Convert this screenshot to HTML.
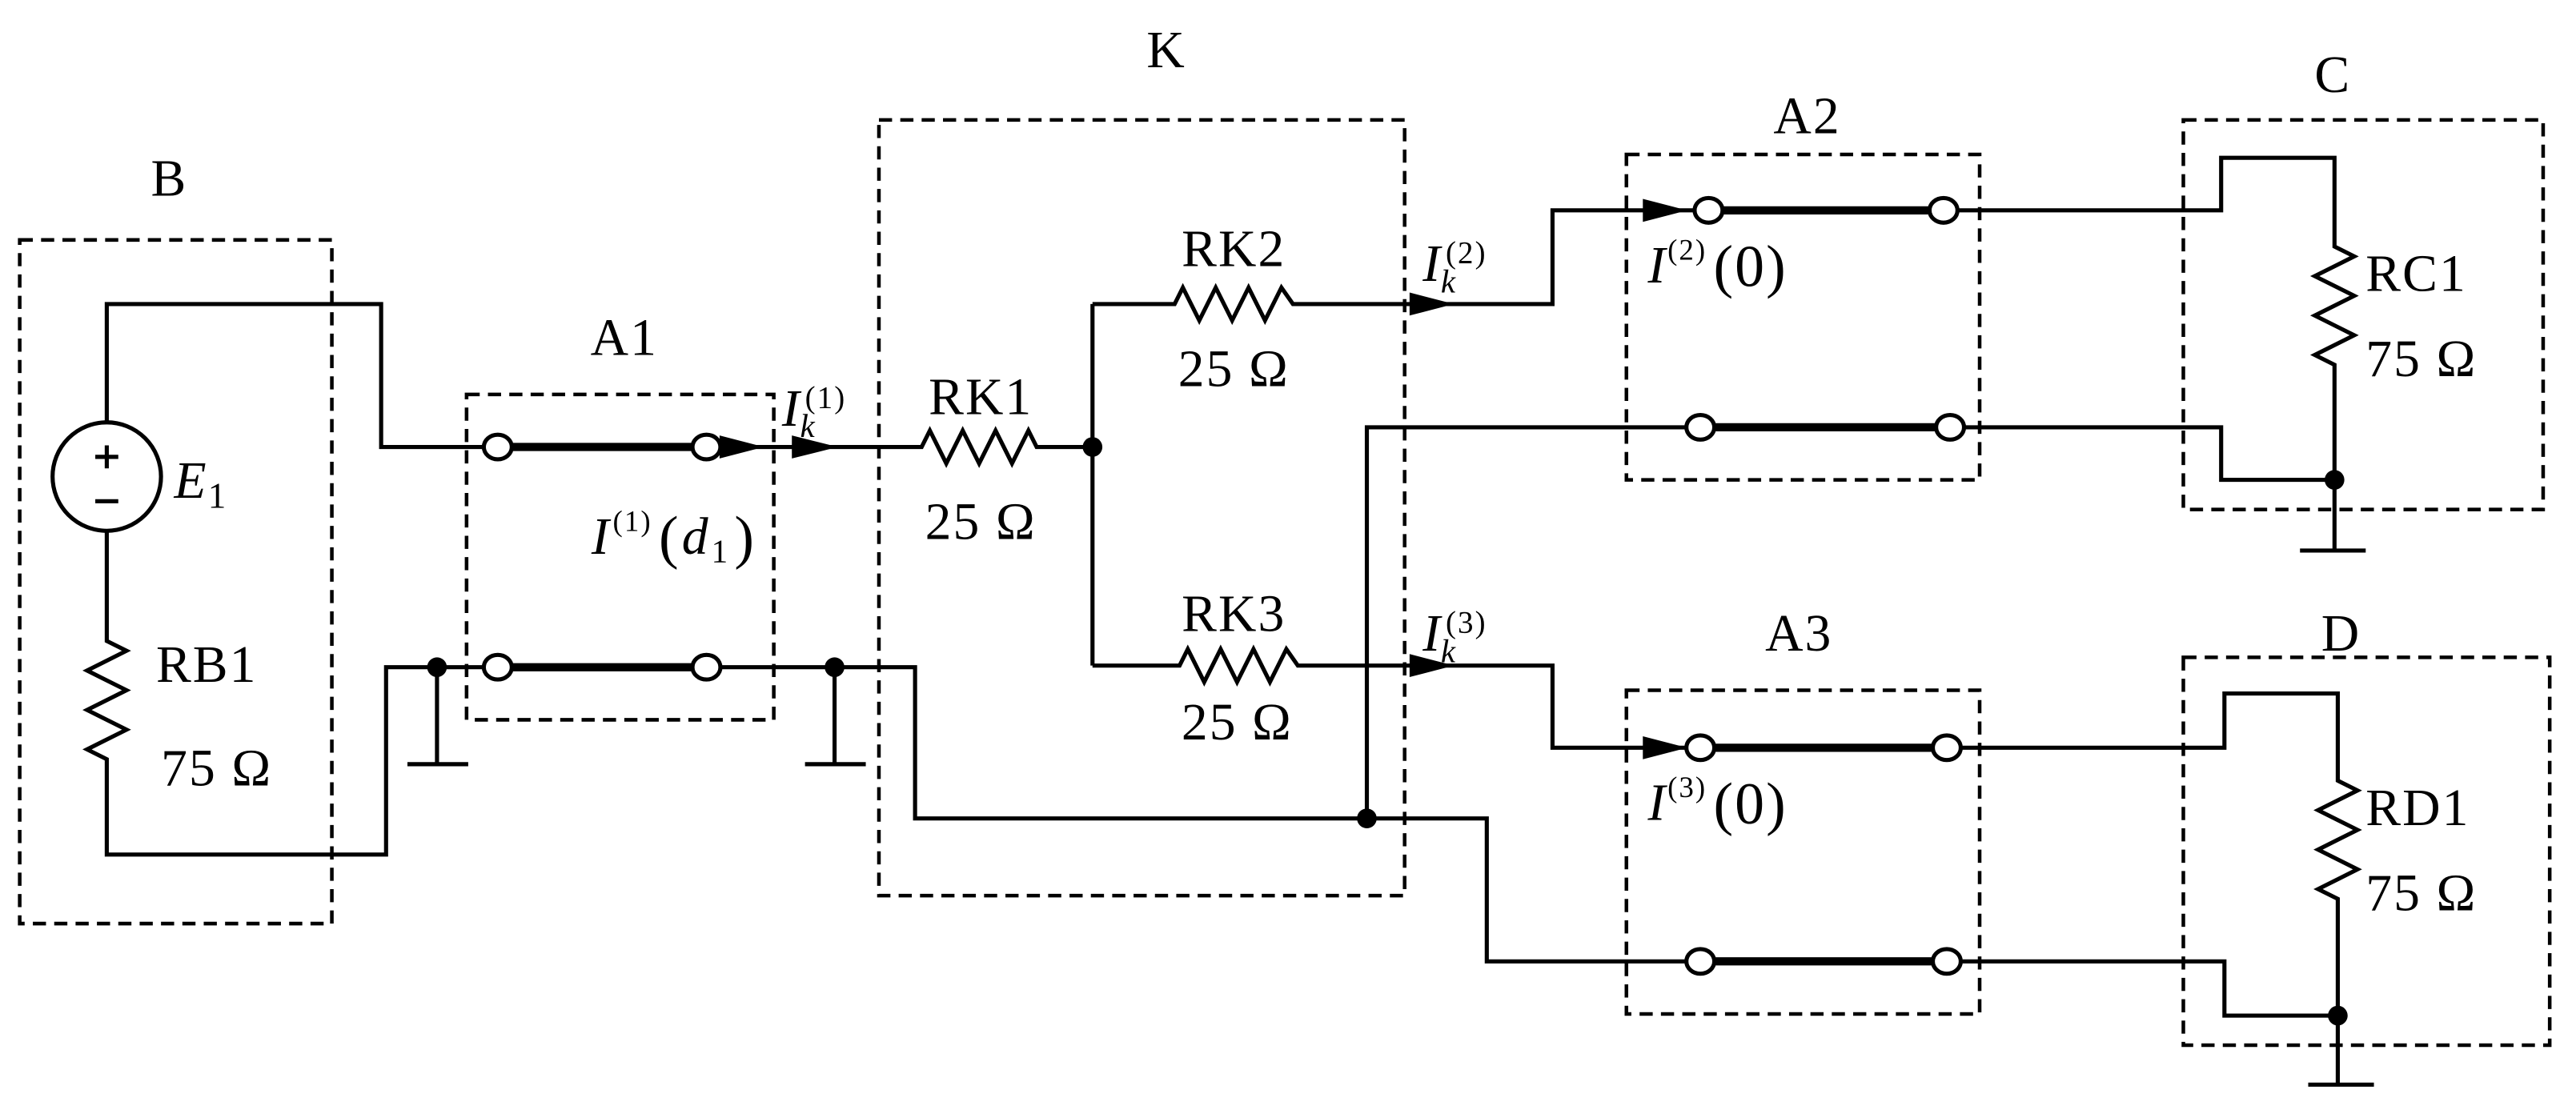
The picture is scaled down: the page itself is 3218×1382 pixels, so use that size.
<!DOCTYPE html>
<html><head><meta charset="utf-8"><style>
html,body{margin:0;padding:0;background:#fff;}
svg{display:block;}
text{font-family:"Liberation Serif",serif;fill:#000;}
</style></head><body>
<svg width="3218" height="1382" viewBox="0 0 1568 673" preserveAspectRatio="none" xmlns="http://www.w3.org/2000/svg">
<g fill="none" stroke="#000" stroke-width="2.2" stroke-dasharray="8,5">
<rect x="12" y="146" width="190" height="416"/>
<rect x="284" y="240" width="187" height="198"/>
<rect x="535" y="73" width="320" height="472"/>
<rect x="990" y="94" width="215" height="198"/>
<rect x="990" y="420" width="215" height="197"/>
<rect x="1329" y="73" width="219" height="237"/>
<rect x="1329" y="400" width="223" height="236"/>
</g>
<g fill="none" stroke="#000" stroke-width="2.5">
<polyline points="65,257 65,185 232,185 232,272 296,272"/>
<polyline points="65,323 65,390 77,396 53,408 77,420 53,432 77,444 53,456 65,462 65,520 235,520 235,406 296,406"/>
<circle cx="65" cy="290" r="33"/>
<line x1="266" y1="406" x2="266" y2="465"/><line x1="248" y1="465" x2="285" y2="465"/>
<line x1="508" y1="406" x2="508" y2="465"/><line x1="490" y1="465" x2="527" y2="465"/>
<polyline points="437,272 561,272 566,262 576,282 586,262 596,282 606,262 616,282 626,262 631,272 665,272"/>
<polyline points="437,406 557,406 557,498 905,498 905,585 1028,585"/>
<polyline points="665,185 665,405"/>
<polyline points="665,185 715,185 720,175 730,195 740,175 750,195 760,175 770,195 780,175 787,185 945,185 945,128 1033,128"/>
<polyline points="665,405 718,405 723,395 733,415 743,395 753,415 763,395 773,415 783,395 790,405 945,405 945,455 1028,455"/>
<polyline points="832,498 832,260 1028,260"/>
<polyline points="1190,128 1352,128 1352,96 1421,96 1421,150 1433,156 1409,168 1433,180 1409,192 1433,204 1409,216 1421,222 1421,292 1352,292 1352,260 1194,260"/>
<polyline points="1421,292 1421,335"/><line x1="1400" y1="335" x2="1440" y2="335"/>
<polyline points="1192,455 1354,455 1354,422 1423,422 1423,475 1435,481 1411,493 1435,505 1411,517 1435,529 1411,541 1423,547 1423,618 1354,618 1354,585 1192,585"/>
<polyline points="1423,618 1423,660"/><line x1="1405" y1="660" x2="1445" y2="660"/>
</g>
<g stroke="#000" stroke-width="5">
<line x1="303" y1="272" x2="430" y2="272"/>
<line x1="303" y1="406" x2="430" y2="406"/>
<line x1="1040" y1="128" x2="1183" y2="128"/>
<line x1="1035" y1="260" x2="1187" y2="260"/>
<line x1="1035" y1="455" x2="1185" y2="455"/>
<line x1="1035" y1="585" x2="1185" y2="585"/>
</g>
<g fill="#fff" stroke="#000" stroke-width="2.5">
<ellipse cx="303" cy="272" rx="8.5" ry="7.5"/><ellipse cx="430" cy="272" rx="8.5" ry="7.5"/>
<ellipse cx="303" cy="406" rx="8.5" ry="7.5"/><ellipse cx="430" cy="406" rx="8.5" ry="7.5"/>
<ellipse cx="1040" cy="128" rx="8.5" ry="7.5"/><ellipse cx="1183" cy="128" rx="8.5" ry="7.5"/>
<ellipse cx="1035" cy="260" rx="8.5" ry="7.5"/><ellipse cx="1187" cy="260" rx="8.5" ry="7.5"/>
<ellipse cx="1035" cy="455" rx="8.5" ry="7.5"/><ellipse cx="1185" cy="455" rx="8.5" ry="7.5"/>
<ellipse cx="1035" cy="585" rx="8.5" ry="7.5"/><ellipse cx="1185" cy="585" rx="8.5" ry="7.5"/>
</g>
<g fill="#000">
<circle cx="266" cy="406" r="6"/><circle cx="508" cy="406" r="6"/>
<circle cx="665" cy="272" r="6"/><circle cx="832" cy="498" r="6"/>
<circle cx="1421" cy="292" r="6"/><circle cx="1423" cy="618" r="6"/>
<polygon points="438,265 465,272 438,279"/>
<polygon points="482,265 510,272 482,279"/>
<polygon points="858,178 885,185 858,192"/>
<polygon points="858,398 885,405 858,412"/>
<polygon points="1000,121 1027,128 1000,135"/>
<polygon points="1000,448 1027,455 1000,462"/>
</g>
<g font-size="32" letter-spacing="1">
<text x="103" y="119" text-anchor="middle">B</text>
<text x="380" y="216" text-anchor="middle">A1</text>
<text x="710" y="41" text-anchor="middle">K</text>
<text x="1100" y="81" text-anchor="middle">A2</text>
<text x="1095" y="396" text-anchor="middle">A3</text>
<text x="1420" y="56" text-anchor="middle">C</text>
<text x="1425" y="396" text-anchor="middle">D</text>
<text x="95" y="415">RB1</text>
<text x="98" y="478">75 Ω</text>
<text x="597" y="252" text-anchor="middle">RK1</text>
<text x="597" y="328" text-anchor="middle">25 Ω</text>
<text x="751" y="162" text-anchor="middle">RK2</text>
<text x="751" y="235" text-anchor="middle">25 Ω</text>
<text x="751" y="384" text-anchor="middle">RK3</text>
<text x="753" y="450" text-anchor="middle">25 Ω</text>
<text x="1440" y="177">RC1</text>
<text x="1440" y="229">75 Ω</text>
<text x="1440" y="502">RD1</text>
<text x="1440" y="554">75 Ω</text>
<text x="106" y="303" font-style="italic">E<tspan font-style="normal" font-size="22" dy="6">1</tspan></text>
<text x="476" y="259" font-style="italic">I</text><text x="490" y="248" font-size="19">(1)</text><text x="487" y="266" font-size="20" font-style="italic">k</text>
<text x="866" y="171" font-style="italic">I</text><text x="880" y="160" font-size="19">(2)</text><text x="877" y="178" font-size="20" font-style="italic">k</text>
<text x="866" y="396" font-style="italic">I</text><text x="880" y="385" font-size="19">(3)</text><text x="877" y="403" font-size="20" font-style="italic">k</text>
<text x="360" y="337" font-style="italic">I</text><text x="373" y="323" font-size="18">(1)</text><text x="401" y="339" font-size="36">(</text><text x="415" y="337" font-style="italic">d</text><text x="433" y="342" font-size="20">1</text><text x="447" y="339" font-size="36">)</text>
<text x="1003" y="172" font-style="italic">I</text><text x="1015" y="158" font-size="18">(2)</text><text x="1043" y="174" font-size="36">(0)</text>
<text x="1003" y="499" font-style="italic">I</text><text x="1015" y="485" font-size="18">(3)</text><text x="1043" y="501" font-size="36">(0)</text>
</g>
<g stroke="#000" stroke-width="2.5">
<line x1="65" y1="271" x2="65" y2="285"/><line x1="58" y1="278" x2="72" y2="278"/>
<line x1="58" y1="305" x2="72" y2="305"/>
</g>
</svg>
</body></html>
